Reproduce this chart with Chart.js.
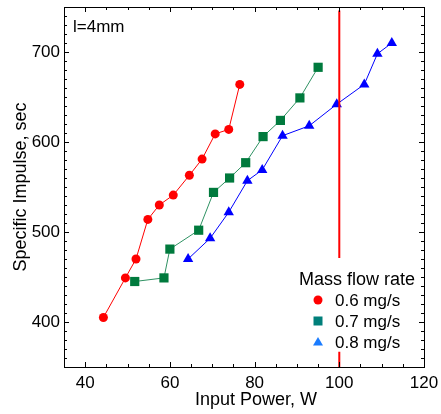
<!DOCTYPE html>
<html>
<head>
<meta charset="utf-8">
<script src="https://cdn.jsdelivr.net/npm/chart.js@4.4.0/dist/chart.umd.min.js"></script>
<style>
  html, body { margin: 0; padding: 0; background: #fff; }
  #wrap { width: 441px; height: 414px; }
</style>
</head>
<body>
<div id="wrap"><canvas id="myChart"></canvas></div>
<script>
const FONT = "'Liberation Sans', Arial, Helvetica, sans-serif";

// input power (W) and specific impulse (sec) per mass flow rate
const power06 = [44.3, 49.5, 52.0, 54.8, 57.5, 60.8, 64.6, 67.6, 70.7, 73.9, 76.5];
const isp06 = [405, 449, 470, 514, 530, 541, 563, 581, 609, 614, 664];
const power07 = [51.7, 58.6, 60.0, 66.8, 70.3, 74.1, 77.9, 82.0, 86.1, 90.7, 95.0];
const isp07 = [445, 449, 481, 502, 544, 560, 577, 606, 624, 649, 683];
const power08 = [64.3, 69.5, 73.9, 78.3, 81.8, 86.6, 92.9, 99.4, 105.9, 109.0, 112.4];
const isp08 = [470, 493, 522, 557, 569, 607, 618, 642, 664, 698, 710];
const seriesLabels = ["0.6 mg/s", "0.7 mg/s", "0.8 mg/s"];

// vertical reference line at 100 W (gap where the legend sits)
const refPower = 100;
const refIsp = [746, 471, null, 367, 350];

const xTickLabels = [40, 60, 80, 100, 120];
const yTickLabels = [400, 500, 600, 700];

const toPoints = (xs, ys) => xs.map((x, i) => ({ x: x, y: ys[i] }));

const legendItems = [
  { text: seriesLabels[0], style: "circle", color: "#ff0000" },
  { text: seriesLabels[1], style: "rect", color: "#007f7a" },
  { text: seriesLabels[2], style: "triangle", color: "#1a7cff" },
];

function marker(ctx, style, x, y, color) {
  ctx.fillStyle = color;
  ctx.beginPath();
  if (style === "circle") {
    ctx.arc(x, y, 4.5, 0, Math.PI * 2);
  } else if (style === "rect") {
    ctx.rect(x - 4.5, y - 4.5, 9, 9);
  } else {
    ctx.moveTo(x, y - 5);
    ctx.lineTo(x + 5, y + 3.5);
    ctx.lineTo(x - 5, y + 3.5);
    ctx.closePath();
  }
  ctx.fill();
}

const decorations = {
  id: "decorations",
  afterDraw(chart) {
    const { ctx, chartArea: a, scales } = chart;
    const xs = scales.x;
    const ys = scales.y;
    ctx.save();
    ctx.strokeStyle = "#000";
    ctx.lineWidth = 1;
    ctx.beginPath();
    for (let v = xs.min; v <= xs.max; v += 5) {
      const px = Math.round(xs.getPixelForValue(v)) + 0.5;
      const len = v % 20 === 0 ? 5 : 3;
      ctx.moveTo(px, a.bottom); ctx.lineTo(px, a.bottom - len);
      ctx.moveTo(px, a.top); ctx.lineTo(px, a.top + len);
    }
    for (let v = ys.min; v <= ys.max; v += 10) {
      const py = Math.round(ys.getPixelForValue(v)) + 0.5;
      const len = v % 100 === 0 ? 5 : 3;
      ctx.moveTo(a.left, py); ctx.lineTo(a.left + len, py);
      ctx.moveTo(a.right, py); ctx.lineTo(a.right - len, py);
    }
    ctx.stroke();
    ctx.strokeRect(Math.round(a.left) + 0.5, Math.round(a.top) + 0.5,
      Math.round(a.right - a.left), Math.round(a.bottom - a.top));

    ctx.fillStyle = "#000";
    ctx.font = "17px " + FONT;
    ctx.textAlign = "left";
    ctx.textBaseline = "alphabetic";
    ctx.fillText("l=4mm", 73, 32);

    ctx.font = "18px " + FONT;
    ctx.textAlign = "center";
    ctx.fillText("Input Power, W", 256, 405);
    ctx.save();
    ctx.translate(26, (a.top + a.bottom) / 2);
    ctx.rotate(-Math.PI / 2);
    ctx.fillText("Specific Impulse, sec", 0, 0);
    ctx.restore();

    ctx.textAlign = "left";
    ctx.textBaseline = "middle";
    ctx.fillText("Mass flow rate", 299, 280);
    ctx.font = "17px " + FONT;
    legendItems.forEach((it, i) => {
      const y = 300 + i * 21;
      marker(ctx, it.style, 318, y, it.color);
      ctx.fillStyle = "#000";
      ctx.fillText(it.text, 335, y + 1);
    });
    ctx.restore();
  },
};

const ctx = document.getElementById("myChart").getContext("2d");
const myChart = new Chart(ctx, {
  type: "scatter",
  data: {
    datasets: [
      {
        label: "ref",
        data: refIsp.map((y) => ({ x: refPower, y: y })),
        showLine: true,
        spanGaps: false,
        borderColor: "#ff0000",
        borderWidth: 2,
        pointRadius: 0,
        order: 0,
      },
      {
        label: seriesLabels[0],
        data: toPoints(power06, isp06),
        showLine: true,
        borderColor: "#ff0000",
        borderWidth: 1,
        backgroundColor: "#ff0000",
        pointStyle: "circle",
        pointRadius: 4.5,
        pointBorderWidth: 0,
        order: 3,
      },
      {
        label: seriesLabels[1],
        data: toPoints(power07, isp07),
        showLine: true,
        borderColor: "#2f9263",
        borderWidth: 1,
        backgroundColor: "#007a3d",
        pointBackgroundColor: "#007a3d",
        pointStyle: "rect",
        pointRadius: 6.5,
        pointBorderWidth: 0,
        order: 2,
      },
      {
        label: seriesLabels[2],
        data: toPoints(power08, isp08),
        showLine: true,
        borderColor: "#0000ff",
        borderWidth: 1,
        backgroundColor: "#0000ff",
        pointStyle: "triangle",
        pointRadius: 6,
        pointBorderWidth: 0,
        order: 1,
      },
    ],
  },
  options: {
    responsive: true,
    maintainAspectRatio: false,
    animation: false,
    layout: { padding: { top: 7, right: 17, left: 0, bottom: 0 } },
    plugins: {
      legend: { display: false },
      tooltip: { enabled: false },
    },
    scales: {
      x: {
        type: "linear",
        min: 35,
        max: 120,
        grid: { display: false, drawTicks: false },
        border: { display: false },
        ticks: {
          stepSize: 5,
          autoSkip: false,
          maxRotation: 0,
          padding: 6,
          color: "#000",
          font: { family: FONT, size: 17 },
          callback: (v) => (xTickLabels.includes(v) ? v : ""),
        },
        afterFit: (s) => {
          s.height = 47;
          s.paddingLeft = 0;
          s.paddingRight = 0;
        },
      },
      y: {
        min: 350,
        max: 750,
        grid: { display: false, drawTicks: false },
        border: { display: false },
        ticks: {
          stepSize: 10,
          autoSkip: false,
          padding: 4,
          color: "#000",
          font: { family: FONT, size: 17 },
          callback: (v) => (yTickLabels.includes(v) ? v : ""),
        },
        afterFit: (s) => {
          s.width = 64;
          s.paddingTop = 0;
          s.paddingBottom = 0;
        },
      },
    },
  },
  plugins: [decorations],
});
</script>
</body>
</html>
